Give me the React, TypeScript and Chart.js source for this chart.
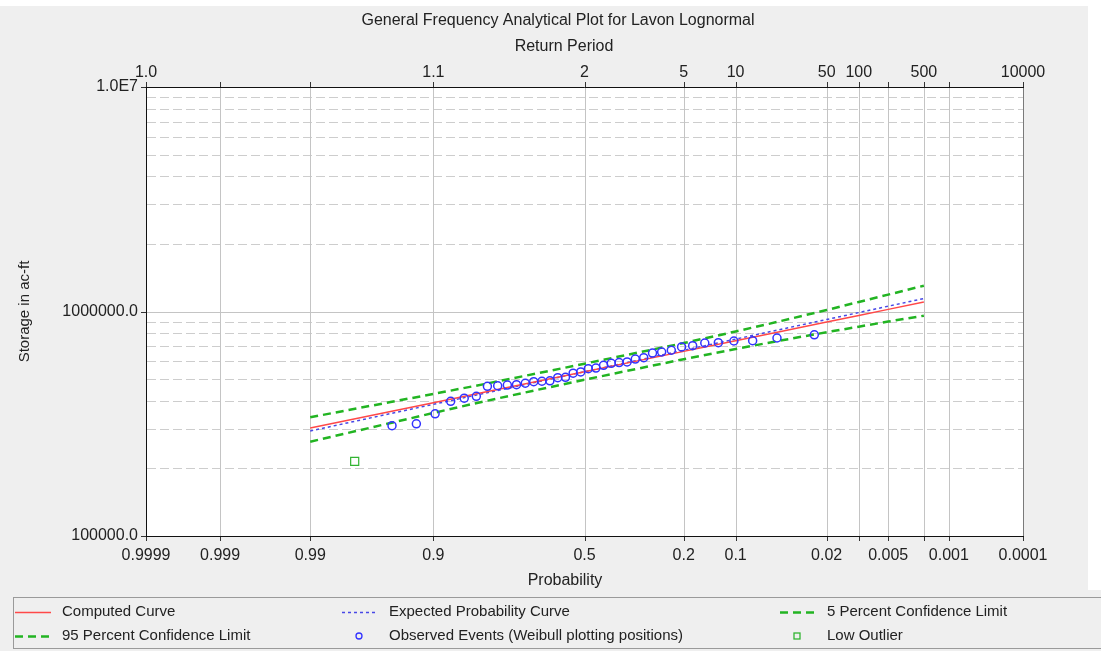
import { useEffect, useRef } from 'react';
import { Chart, registerables, LinearScale } from 'chart.js';

Chart.register(...registerables);

// ---- Text ----
const chartTitle = 'General Frequency Analytical Plot for Lavon Lognormal';
const topAxisTitle = 'Return Period';
const bottomAxisTitle = 'Probability';
const leftAxisTitle = 'Storage in ac-ft';

// ---- Axis ticks ----
// Exceedance probabilities marked on the probability axes (bottom and top share positions)
const probabilityTicks = [0.9999, 0.999, 0.99, 0.9, 0.5, 0.2, 0.1, 0.02, 0.01, 0.005, 0.002, 0.001, 0.0001];
const probabilityLabels = ['0.9999', '0.999', '0.99', '0.9', '0.5', '0.2', '0.1', '0.02', '', '0.005', '', '0.001', '0.0001'];
const returnPeriodLabels = ['1.0', '', '', '1.1', '2', '5', '10', '50', '100', '', '500', '', '10000'];

const storageTicks = [
  100000, 200000, 300000, 400000, 500000, 600000, 700000, 800000, 900000,
  1000000, 2000000, 3000000, 4000000, 5000000, 6000000, 7000000, 8000000, 9000000,
  10000000,
];
const storageDecades = [100000, 1000000, 10000000];
const storageDecadeLabels = ['100000.0', '1000000.0', '1.0E7'];

// ---- Frequency curves (storage in ac-ft at each exceedance probability) ----
const curveProbabilities = [0.99, 0.95, 0.9, 0.8, 0.5, 0.2, 0.1, 0.05, 0.02, 0.01, 0.005, 0.002];
const computedCurve = [302700, 358400, 392300, 437500, 539100, 664300, 741300, 811100, 897700, 960300, 1021900, 1101400];
const expectedCurve = [293700, 351000, 386000, 432800, 539100, 671700, 753400, 828300, 921300, 989000, 1056000, 1142000];
const upperLimit5 = [337900, 395200, 429200, 475900, 585300, 723400, 814600, 901500, 1015100, 1103000, 1189000, 1303000];
const lowerLimit95 = [263000, 318700, 353200, 399000, 496800, 613300, 680800, 739500, 808700, 855900, 901900, 957900];

// ---- Observed annual maxima, largest first (rank 1 .. 37) ----
const recordCount = 38;
const observedStorage = [
  787000, 762000, 741000, 739000, 726000, 724000, 704000, 695000, 672000, 660000,
  653000, 623000, 614000, 596000, 592000, 588000, 576000, 560000, 556000, 538000,
  531000, 509000, 507000, 491000, 489000, 487000, 479000, 472000, 470000, 467000,
  464000, 419000, 411000, 398000, 350000, 316000, 310000,
];
const lowOutlierRank = 38;
const lowOutlierStorage = 215000;

// ---- Styling ----
const FONT = '"Liberation Sans", Arial, Helvetica, sans-serif';
const TEXT = '#222222';
const PANEL = '#efefef';
const GRID = '#c4c4c4';
const legendColumnX = [15, 342, 780];
const legendRowY = [612, 636];

// Inverse of the standard normal CDF (Acklam's rational approximation)
function normalQuantile(p: number): number {
  const a = [-3.969683028665376e1, 2.209460984245205e2, -2.759285104469687e2, 1.38357751867269e2, -3.066479806614716e1, 2.506628277459239];
  const b = [-5.447609879822406e1, 1.615858368580409e2, -1.556989798598866e2, 6.680131188771972e1, -1.328068155288572e1];
  const c = [-7.784894002430293e-3, -3.223964580411365e-1, -2.400758277161838, -2.549732539343734, 4.374664141464968, 2.938163982698783];
  const d = [7.784695709041462e-3, 3.224671290700398e-1, 2.445134137142996, 3.754408661907416];
  const plow = 0.02425;
  if (p < plow) {
    const q = Math.sqrt(-2 * Math.log(p));
    return (((((c[0] * q + c[1]) * q + c[2]) * q + c[3]) * q + c[4]) * q + c[5]) / ((((d[0] * q + d[1]) * q + d[2]) * q + d[3]) * q + 1);
  }
  if (p > 1 - plow) {
    const q = Math.sqrt(-2 * Math.log(1 - p));
    return -(((((c[0] * q + c[1]) * q + c[2]) * q + c[3]) * q + c[4]) * q + c[5]) / ((((d[0] * q + d[1]) * q + d[2]) * q + d[3]) * q + 1);
  }
  const q = p - 0.5;
  const r = q * q;
  return ((((((a[0] * r + a[1]) * r + a[2]) * r + a[3]) * r + a[4]) * r + a[5]) * q) / (((((b[0] * r + b[1]) * r + b[2]) * r + b[3]) * r + b[4]) * r + 1);
}

function normalCdf(z: number): number {
  const t = 1 / (1 + 0.3275911 * Math.abs(z) / Math.SQRT2);
  const y = 1 - (((((1.061405429 * t - 1.453152027) * t + 1.421413741) * t - 0.284496736) * t + 0.254829592) * t) * Math.exp(-(z * z) / 2);
  return z >= 0 ? 0.5 * (1 + y) : 0.5 * (1 - y);
}

// Normal-probability axis: values are exceedance probabilities, spaced by normal quantile,
// decreasing from left to right.
class ProbabilityScale extends LinearScale {
  static id = 'probability';
  static defaults = {};

  determineDataLimits() {
    this.min = Math.min(...probabilityTicks);
    this.max = Math.max(...probabilityTicks);
  }

  buildTicks() {
    return probabilityTicks.map((value) => ({ value }));
  }

  zRange(): [number, number] {
    return [normalQuantile(1 - this.max), normalQuantile(1 - this.min)];
  }

  getPixelForValue(value: number) {
    if (value === null || value === undefined || !isFinite(value)) return NaN;
    const [zl, zr] = this.zRange();
    return this.getPixelForDecimal((normalQuantile(1 - value) - zl) / (zr - zl));
  }

  getValueForPixel(pixel: number) {
    const [zl, zr] = this.zRange();
    return 1 - normalCdf(zl + this.getDecimalForPixel(pixel) * (zr - zl));
  }
}
Chart.register(ProbabilityScale as any);

const pairs = (xs: number[], ys: number[]) => xs.map((x, i) => ({ x, y: ys[i] }));

// Panel background, plot frame, grid lines and tick marks
const framePlugin = {
  id: 'frame',
  beforeDraw(chart: any) {
    const { ctx, chartArea: a, width, height } = chart;
    const xs = chart.scales.x;
    const ys = chart.scales.y;
    ctx.save();
    ctx.fillStyle = '#ffffff';
    ctx.fillRect(0, 0, width, height);
    ctx.fillStyle = PANEL;
    ctx.fillRect(0, 6, 1088, 590);
    ctx.fillRect(0, 590, width, height - 590);
    ctx.fillStyle = '#ffffff';
    ctx.fillRect(a.left, a.top, a.right - a.left, a.bottom - a.top);

    ctx.lineWidth = 1;
    // horizontal grid: solid at decades, dashed between
    ys.ticks.forEach((t: any) => {
      const y = Math.round(ys.getPixelForValue(t.value)) + 0.5;
      if (y <= a.top + 1 || y >= a.bottom - 1) return;
      const decade = storageDecades.includes(t.value);
      ctx.strokeStyle = decade ? GRID : '#cdcdcd';
      ctx.setLineDash(decade ? [] : [9, 4]);
      ctx.beginPath();
      ctx.moveTo(a.left + 1, y);
      ctx.lineTo(a.right, y);
      ctx.stroke();
    });
    ctx.setLineDash([]);
    // vertical grid
    ctx.strokeStyle = GRID;
    xs.ticks.forEach((t: any) => {
      const x = Math.round(xs.getPixelForValue(t.value)) + 0.5;
      if (x <= a.left + 1 || x >= a.right - 1) return;
      ctx.beginPath();
      ctx.moveTo(x, a.top);
      ctx.lineTo(x, a.bottom);
      ctx.stroke();
    });

    // tick marks
    ctx.strokeStyle = '#333333';
    xs.ticks.forEach((t: any) => {
      const x = Math.round(xs.getPixelForValue(t.value)) + 0.5;
      ctx.beginPath();
      ctx.moveTo(x, a.bottom);
      ctx.lineTo(x, a.bottom + 5);
      ctx.moveTo(x, a.top - 5);
      ctx.lineTo(x, a.top);
      ctx.stroke();
    });
    storageDecades.forEach((v) => {
      const y = Math.round(ys.getPixelForValue(v)) + 0.5;
      ctx.beginPath();
      ctx.moveTo(a.left - 5, y);
      ctx.lineTo(a.left, y);
      ctx.stroke();
    });

    // frame
    ctx.strokeStyle = '#7a7a7a';
    ctx.beginPath();
    ctx.moveTo(Math.round(a.right) + 0.5, a.top);
    ctx.lineTo(Math.round(a.right) + 0.5, a.bottom);
    ctx.stroke();
    ctx.strokeStyle = '#111111';
    ctx.beginPath();
    ctx.moveTo(a.left - 0.5, a.top + 0.5);
    ctx.lineTo(a.right + 1, a.top + 0.5);
    ctx.moveTo(a.left + 0.5, a.top);
    ctx.lineTo(a.left + 0.5, a.bottom + 1);
    ctx.moveTo(a.left, a.bottom + 0.5);
    ctx.lineTo(a.right + 1, a.bottom + 0.5);
    ctx.stroke();
    ctx.restore();
  },
  afterDraw(chart: any) {
    const { ctx, chartArea: a } = chart;
    ctx.save();
    ctx.fillStyle = TEXT;
    ctx.textAlign = 'center';
    ctx.textBaseline = 'middle';
    ctx.font = `16px ${FONT}`;
    ctx.fillText(chartTitle, 558, 21);
    ctx.fillText(topAxisTitle, 564, 47);
    ctx.fillText(bottomAxisTitle, 565, 581);
    ctx.save();
    ctx.translate(25, (a.top + a.bottom) / 2);
    ctx.rotate(-Math.PI / 2);
    ctx.font = `15px ${FONT}`;
    ctx.fillText(leftAxisTitle, 0, 0);
    ctx.restore();

    // legend
    ctx.strokeStyle = '#9a9a9a';
    ctx.lineWidth = 1;
    ctx.strokeRect(13.5, 597.5, chart.width, 51);
    ctx.font = `15px ${FONT}`;
    ctx.textAlign = 'left';
    chart.data.datasets.forEach((ds: any, i: number) => {
      const x0 = legendColumnX[i % 3];
      const y = legendRowY[Math.floor(i / 3)];
      ctx.save();
      if (ds.showLine === false) {
        ctx.strokeStyle = ds.pointBorderColor;
        ctx.lineWidth = 1.3;
        const cx = x0 + 17;
        if (ds.pointStyle === 'rect') {
          ctx.strokeRect(cx - 3, y - 3, 6, 6);
        } else {
          ctx.beginPath();
          ctx.arc(cx, y, 3, 0, Math.PI * 2);
          ctx.stroke();
        }
      } else {
        ctx.strokeStyle = ds.borderColor;
        ctx.lineWidth = ds.borderWidth;
        ctx.setLineDash(ds.borderDash || []);
        ctx.beginPath();
        ctx.moveTo(x0, y + 0.5);
        ctx.lineTo(x0 + 36, y + 0.5);
        ctx.stroke();
      }
      ctx.restore();
      ctx.fillStyle = TEXT;
      ctx.fillText(ds.label, x0 + 47, y);
    });
    ctx.restore();
  },
};

export default function App() {
  const canvasRef = useRef<HTMLCanvasElement | null>(null);

  useEffect(() => {
    const canvas = canvasRef.current;
    if (!canvas) return;
    const tickFont = { family: FONT, size: 16 };
    const chart = new Chart(canvas, {
      type: 'line',
      data: {
        datasets: [
          {
            label: 'Computed Curve',
            data: pairs(curveProbabilities, computedCurve),
            borderColor: 'rgb(255, 72, 72)',
            borderWidth: 1.5,
            pointRadius: 0,
            order: 2,
          },
          {
            label: 'Expected Probability Curve',
            data: pairs(curveProbabilities, expectedCurve),
            borderColor: 'rgb(72, 72, 230)',
            borderWidth: 1.5,
            borderDash: [3, 3],
            pointRadius: 0,
            order: 2,
          },
          {
            label: '5 Percent Confidence Limit',
            data: pairs(curveProbabilities, upperLimit5),
            borderColor: 'rgb(34, 180, 34)',
            borderWidth: 2.5,
            borderDash: [8, 5],
            pointRadius: 0,
            order: 3,
          },
          {
            label: '95 Percent Confidence Limit',
            data: pairs(curveProbabilities, lowerLimit95),
            borderColor: 'rgb(34, 180, 34)',
            borderWidth: 2.5,
            borderDash: [8, 5],
            pointRadius: 0,
            order: 3,
          },
          {
            label: 'Observed Events (Weibull plotting positions)',
            data: observedStorage.map((y, i) => ({ x: (i + 1) / (recordCount + 1), y })),
            showLine: false,
            pointStyle: 'circle',
            pointRadius: 4,
            pointBorderWidth: 1.5,
            pointBorderColor: 'rgb(50, 50, 255)',
            pointBackgroundColor: 'rgba(0, 0, 0, 0)',
            order: 1,
          },
          {
            label: 'Low Outlier',
            data: [{ x: lowOutlierRank / (recordCount + 1), y: lowOutlierStorage }],
            showLine: false,
            pointStyle: 'rect',
            pointRadius: 5.7,
            pointBorderWidth: 1.2,
            pointBorderColor: 'rgb(50, 180, 50)',
            pointBackgroundColor: 'rgba(0, 0, 0, 0)',
            order: 1,
          },
        ],
      } as any,
      options: {
        responsive: false,
        maintainAspectRatio: false,
        devicePixelRatio: 1,
        animation: false,
        events: [],
        layout: { padding: { left: 0, top: 0, right: 78, bottom: 61 } },
        plugins: {
          legend: { display: false },
          title: { display: false },
          tooltip: { enabled: false },
        },
        scales: {
          x: {
            type: 'probability',
            axis: 'x',
            position: 'bottom',
            grid: { display: false, drawTicks: false, tickLength: 0 },
            border: { display: false },
            ticks: {
              autoSkip: false,
              maxRotation: 0,
              minRotation: 0,
              padding: 10,
              color: TEXT,
              font: tickFont,
              callback: (_v: any, i: number) => probabilityLabels[i],
            },
            afterFit: (s: any) => {
              s.height = 54;
            },
          },
          x2: {
            type: 'probability',
            axis: 'x',
            position: 'top',
            grid: { display: false, drawTicks: false, tickLength: 0 },
            border: { display: false },
            ticks: {
              autoSkip: false,
              maxRotation: 0,
              minRotation: 0,
              padding: 5,
              color: TEXT,
              font: tickFont,
              callback: (_v: any, i: number) => returnPeriodLabels[i],
            },
            afterFit: (s: any) => {
              s.height = 87;
            },
          },
          y: {
            type: 'logarithmic',
            position: 'left',
            min: 100000,
            max: 10000000,
            grid: { display: false, drawTicks: false, tickLength: 0 },
            border: { display: false },
            afterBuildTicks: (s: any) => {
              s.ticks = storageTicks.map((value) => ({ value, major: storageDecades.includes(value) }));
            },
            ticks: {
              autoSkip: false,
              padding: 8,
              color: TEXT,
              font: tickFont,
              callback: (v: any) => {
                const k = storageDecades.indexOf(Number(v));
                return k >= 0 ? storageDecadeLabels[k] : '';
              },
            },
            afterFit: (s: any) => {
              s.width = 146;
            },
          },
        } as any,
      },
      plugins: [framePlugin],
    } as any);
    return () => chart.destroy();
  }, []);

  return (
    <div style={{ position: 'fixed', left: 0, top: 0, width: 1101, height: 651 }}>
      <canvas ref={canvasRef} width={1101} height={651} style={{ display: 'block', width: 1101, height: 651 }} />
    </div>
  );
}
